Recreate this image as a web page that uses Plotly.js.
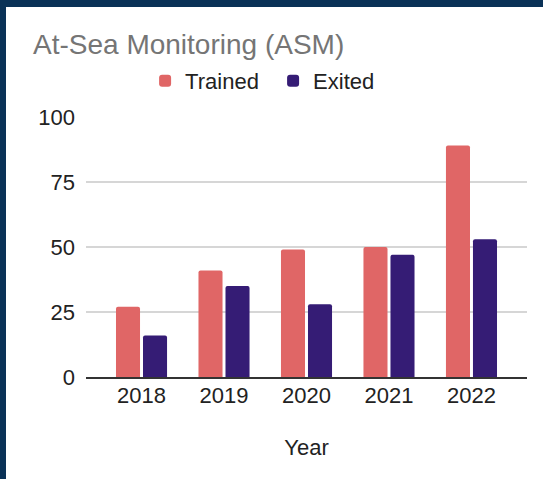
<!DOCTYPE html>
<html>
<head>
<meta charset="utf-8">
<script src="https://cdn.plot.ly/plotly-3.0.1.min.js"></script>
<style>
  html, body { margin: 0; padding: 0; width: 543px; height: 479px; background: #0a3257; overflow: hidden; }
  #chart { position: absolute; left: 6px; top: 7px; width: 537px; height: 472px; background: #fff; }
</style>
</head>
<body>
<div id="chart"></div>
<script>
const years = ["2018", "2019", "2020", "2021", "2022"];
const trained = [27, 41, 49, 50, 89];
const exited = [16, 35, 28, 47, 53];
const yTicks = [0, 25, 50, 75, 100];

const FONT = "Liberation Sans, Arial, sans-serif";

const data = [
  { type: "bar", name: "Trained", x: years, y: trained,
    marker: { color: "#e06666", cornerradius: 2 }, hoverinfo: "none" },
  { type: "bar", name: "Exited", x: years, y: exited,
    marker: { color: "#351c75", cornerradius: 2 }, hoverinfo: "none" }
];

const layout = {
  width: 537, height: 472,
  margin: { l: 80, r: 16, t: 110, b: 102 },
  paper_bgcolor: "#ffffff",
  plot_bgcolor: "#ffffff",
  font: { family: FONT, color: "#222222", size: 22 },
  title: {
    text: "At-Sea Monitoring (ASM)",
    font: { family: FONT, size: 28, color: "#757575" },
    x: 27 / 537, xref: "container", xanchor: "left",
    y: 1 - 37 / 472, yref: "container", yanchor: "middle"
  },
  barmode: "group",
  bargap: 0.345,
  bargroupgap: 0.11,
  showlegend: true,
  legend: {
    orientation: "h",
    x: 0.134, xanchor: "left",
    y: 1 - 74 / 472, yref: "container", yanchor: "middle",
    font: { family: FONT, size: 22, color: "#222222" },
    itemwidth: 30,
    entrywidth: 83,
    traceorder: "normal"
  },
  xaxis: {
    type: "category",
    range: [-0.673, 4.673],
    showgrid: false,
    showline: true, linecolor: "#333333", linewidth: 1.5,
    ticks: "", ticklabelstandoff: -2,
    tickfont: { family: FONT, size: 22, color: "#222222" },
    title: { text: "Year", font: { family: FONT, size: 22, color: "#222222" }, standoff: 32 }
  },
  yaxis: {
    range: [0, 100],
    tickvals: yTicks,
    ticktext: yTicks.map(String),
    showgrid: true, gridcolor: "#d6d6d6", gridwidth: 1.5,
    zeroline: false,
    ticks: "", ticklabelstandoff: 10,
    tickfont: { family: FONT, size: 22, color: "#222222" }
  }
};

Plotly.newPlot("chart", data, layout, { displayModeBar: false, staticPlot: true });
</script>
</body>
</html>
